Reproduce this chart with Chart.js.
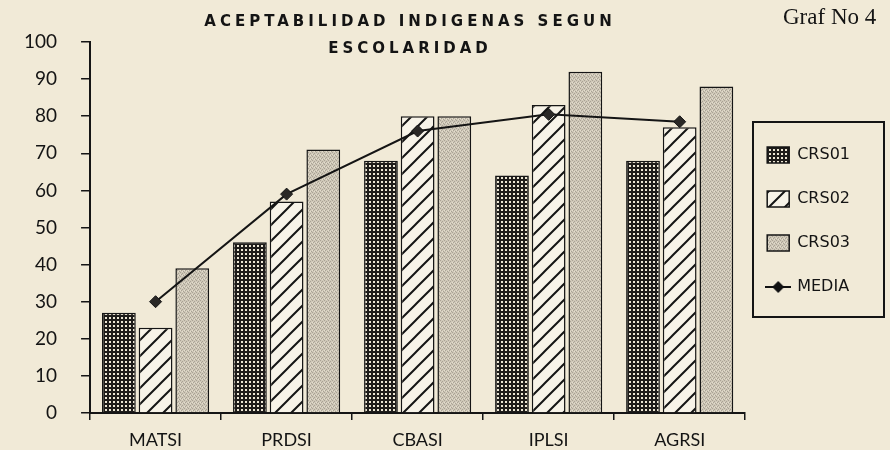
<!DOCTYPE html>
<html>
<head>
<meta charset="utf-8">
<script src="https://cdn.jsdelivr.net/npm/chart.js@4"></script>
<style>
  html, body { margin: 0; padding: 0; background: #f1ead7; }
  #cadre { position: relative; width: 890px; height: 450px; }
  #titre { position: absolute; left: 155px; width: 510px; top: 8px; text-align: center;
           font-family: "DejaVu Sans"; font-weight: bold; font-size: 15px; letter-spacing: 4px;
           line-height: 27px; color: #141414; }
  #graf { position: absolute; left: 783px; top: 4px; font-family: "Liberation Serif";
          font-size: 23px; color: #141414; }
</style>
</head>
<body>
<div id="cadre">
  <canvas id="graphique" width="890" height="450"></canvas>
  <div id="titre">ACEPTABILIDAD INDIGENAS SEGUN<br>ESCOLARIDAD</div>
  <div id="graf">Graf No 4</div>
</div>
<script>
// données
const categories = ["MATSI", "PRDSI", "CBASI", "IPLSI", "AGRSI"];
const crs01 = [27, 46, 68, 64, 68];
const crs02 = [23, 57, 80, 83, 77];
const crs03 = [39, 71, 80, 92, 88];
const media = [30, 59, 76, 80.5, 78.5];
const ticksY = [0, 10, 20, 30, 40, 50, 60, 70, 80, 90, 100];

const ctx = document.getElementById("graphique").getContext("2d");

// motifs des barres
const motifPoints = () => {
    let c = document.createElement("canvas");
    c.width = 4; c.height = 4;
    let x = c.getContext("2d");
    x.fillStyle = "#1e1c1a";
    x.fillRect(0, 0, 4, 4);
    x.fillStyle = "#ece6d4";
    x.fillRect(1, 1, 2, 2);
    return ctx.createPattern(c, "repeat");
}

const motifHachures = () => {
    let c = document.createElement("canvas");
    c.width = 16; c.height = 16;
    let x = c.getContext("2d");
    x.fillStyle = "#f7f3e8";
    x.fillRect(0, 0, 16, 16);
    x.strokeStyle = "#151515";
    x.lineWidth = 2;
    x.beginPath();
    x.moveTo(-2, 18); x.lineTo(18, -2);
    x.moveTo(-2, 2); x.lineTo(2, -2);
    x.moveTo(14, 18); x.lineTo(18, 14);
    x.stroke();
    return ctx.createPattern(c, "repeat");
}

const motifGris = () => {
    let c = document.createElement("canvas");
    c.width = 4; c.height = 4;
    let x = c.getContext("2d");
    x.fillStyle = "#cfc8b8";
    x.fillRect(0, 0, 4, 4);
    x.fillStyle = "#a9a295";
    x.fillRect(0, 0, 1, 1);
    x.fillRect(2, 1, 1, 1);
    x.fillRect(1, 2, 1, 1);
    x.fillRect(3, 3, 1, 1);
    x.fillStyle = "#e4dece";
    x.fillRect(2, 3, 1, 1);
    x.fillRect(0, 2, 1, 1);
    return ctx.createPattern(c, "repeat");
}

// symbole de la légende pour MEDIA
const symboleMedia = () => {
    let c = document.createElement("canvas");
    c.width = 26; c.height = 14;
    let x = c.getContext("2d");
    x.strokeStyle = "#111";
    x.lineWidth = 2;
    x.beginPath();
    x.moveTo(0, 7); x.lineTo(26, 7);
    x.stroke();
    x.fillStyle = "#111";
    x.beginPath();
    x.moveTo(13, 1); x.lineTo(19, 7); x.lineTo(13, 13); x.lineTo(7, 7);
    x.closePath();
    x.fill();
    return c;
}

// remonte la légende et trace son cadre
const cadreLegende = {
    id: "cadreLegende",
    afterLayout(chart) {
        let lg = chart.legend;
        lg.left -= 6; lg.right -= 6;
        lg.top -= 30; lg.bottom -= 30;
    },
    afterDraw(chart) {
        let c = chart.ctx;
        c.save();
        c.strokeStyle = "#141414";
        c.lineWidth = 2;
        c.strokeRect(753, 122, 131, 195);
        c.restore();
    }
};

const barre = (label, data, fond) => ({
    type: "bar",
    label: label,
    data: data,
    backgroundColor: fond,
    borderColor: "#151515",
    borderWidth: 1.5,
    categoryPercentage: 0.84,
    barPercentage: 0.92,
    order: 1
});

const config = {
    data: {
        labels: categories,
        datasets: [
            barre("CRS01", crs01, motifPoints()),
            barre("CRS02", crs02, motifHachures()),
            barre("CRS03", crs03, motifGris()),
            {
                type: "line",
                label: "MEDIA",
                data: media,
                borderColor: "#151515",
                backgroundColor: "#2a2826",
                borderWidth: 2,
                pointStyle: "rectRot",
                pointRadius: 6,
                pointBorderWidth: 1,
                tension: 0,
                order: 0
            }
        ]
    },
    options: {
        responsive: false,
        animation: false,
        layout: { padding: { top: 42, left: 0, right: 24, bottom: -10 } },
        plugins: {
            legend: {
                position: "right",
                labels: {
                    usePointStyle: true,
                    pointStyleWidth: 22,
                    padding: 28,
                    color: "#141414",
                    font: { family: "DejaVu Sans", size: 16 },
                    sort: (a, b) => a.datasetIndex - b.datasetIndex,
                    generateLabels: chart => {
                        let items = Chart.defaults.plugins.legend.labels.generateLabels(chart);
                        items.forEach(it => {
                            it.pointStyle = it.datasetIndex == 3 ? symboleMedia() : "rect";
                            it.lineWidth = 1.5;
                            it.strokeStyle = "#151515";
                        });
                        return items;
                    }
                }
            },
            tooltip: { enabled: false }
        },
        scales: {
            x: {
                grid: { drawOnChartArea: false, tickLength: 7, color: "#151515", lineWidth: 1.5 },
                border: { color: "#151515", width: 2 },
                ticks: { color: "#141414", padding: 11, font: { family: "Lato", size: 18, lineHeight: 1 } }
            },
            y: {
                min: 0,
                max: 100,
                afterBuildTicks: axis => { axis.ticks = ticksY.map(v => ({ value: v })); },
                grid: { drawOnChartArea: false, tickLength: 9, color: "#151515", lineWidth: 1.5 },
                border: { color: "#151515", width: 2 },
                ticks: { color: "#141414", padding: 24, font: { family: "Lato", size: 19 } }
            }
        }
    },
    plugins: [cadreLegende]
};

new Chart(ctx, config);
</script>
</body>
</html>
